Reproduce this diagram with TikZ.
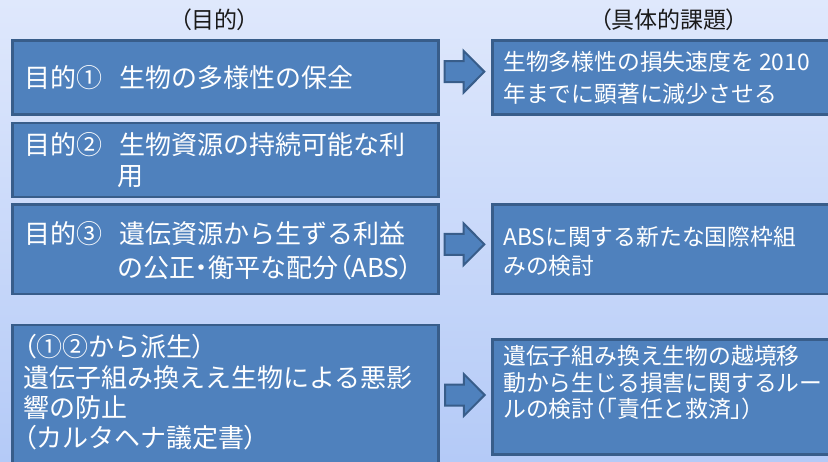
\documentclass[tikz,border=0pt]{standalone}
\usepackage{fontspec}
\setmainfont{Noto Sans CJK JP}
\newfontfamily\pfont{Noto Sans CJK JP}[RawFeature=+palt]
\newcommand\zlp{{\pfont （}}
\newcommand\zrp{{\pfont ）}}
\newcommand\zmd{{\pfont ・}}
\newcommand\zlb{{\pfont 「}}
\newcommand\zrb{{\pfont 」}}
\definecolor{bgtop}{HTML}{DFE8FC}
\definecolor{bgbot}{HTML}{B4CAF7}
\definecolor{boxfill}{HTML}{4F81BD}
\definecolor{boxline}{HTML}{385D8A}
\definecolor{headtext}{HTML}{1A1A1A}
\tikzset{
  box/.style={rectangle, draw=boxline, fill=boxfill, line width=2.5pt, inner sep=0pt, anchor=north west},
  ltext/.style={text=white, anchor=base west, inner sep=0pt, font=\fontsize{26}{30}\selectfont},
  rtext/.style={text=white, anchor=base west, inner sep=0pt, font=\fontsize{22.8}{28}\selectfont},
  head/.style={text=headtext, anchor=base, inner sep=0pt, font=\fontsize{23}{27}\selectfont},
  arrowshape/.style={draw=boxline, fill=boxfill, line width=2pt, line join=miter},
  blockarrow/.pic={\path[arrowshape] (-19.8,-10.5) -- (-1,-10.5) -- (-1,-21) -- (19.8,0) -- (-1,21) -- (-1,10.5) -- (-19.8,10.5) -- cycle;}
}
\begin{document}
\begin{tikzpicture}[x=1pt,y=-1pt]
\useasboundingbox (0,0) rectangle (828,461);
\shade[top color=bgtop, bottom color=bgbot] (0,0) rectangle (828,461);
\clip (0,0) rectangle (828,461);

% headers
\node[head] (h1) at (214.5,28.5) {\zlp 目的\zrp};
\node[head] (h2) at (669,28.5) {\zlp 具体的課題\zrp};

% left boxes
\node[box, minimum width=426pt, minimum height=74pt] (b1) at (11,39) {};
\node[box, minimum width=426pt, minimum height=74pt] (b2) at (11,121.5) {};
\node[box, minimum width=426pt, minimum height=89.5pt] (b3) at (11,203) {};
\node[box, minimum width=426pt, minimum height=160pt] (b4) at (11,323.7) {};

% right boxes
\node[box, minimum width=350pt, minimum height=74pt] (r1) at (491,39) {};
\node[box, minimum width=350pt, minimum height=89.5pt] (r3) at (491,203) {};
\node[box, minimum width=350pt, minimum height=115pt] (r4) at (491,338.3) {};

% arrows
\coordinate (a1) at (464.5,71.7);
\coordinate (a2) at (464.5,244.3);
\coordinate (a3) at (464.8,395);
\pic at (a1) {blockarrow};
\pic at (a2) {blockarrow};
\pic at (a3) {blockarrow};

% left texts
\node[ltext] (l1) at (24,87) {目的①\hspace{17pt}生物の多様性の保全};
\node[ltext] (l2a) at (24,154.5) {目的②\hspace{17pt}生物資源の持続可能な利};
\node[ltext] (l2b) at (117,185.5) {用};
\node[ltext] (l3a) at (24,243.5) {目的③\hspace{17pt}遺伝資源から生ずる利益};
\node[ltext] (l3b) at (117,277) {の公正\zmd 衡平な配分\zlp ABS\zrp};
\node[ltext] (l4a) at (23,356) {\zlp ①②から派生\zrp};
\node[ltext] (l4b) at (23,387) {遺伝子組み換ええ生物による悪影};
\node[ltext] (l4c) at (23,417) {響の防止};
\node[ltext] (l4d) at (23,447) {\zlp カルタヘナ議定書\zrp};

% right texts
\node[rtext] (t1a) at (503,70.7) {生物多様性の損失速度を 2010};
\node[rtext] (t1b) at (503,102) {年までに顕著に減少させる};
\node[rtext] (t3a) at (503,245.5) {ABSに関する新たな国際枠組};
\node[rtext] (t3b) at (503,274) {みの検討};
\node[rtext] (t4a) at (503,364) {遺伝子組み換え生物の越境移};
\node[rtext] (t4b) at (503,391) {動から生じる損害に関するルー};
\node[rtext] (t4c) at (503,417) {ルの検討\zlp\zlb 責任と救済\zrb\zrp};
\end{tikzpicture}
\end{document}
